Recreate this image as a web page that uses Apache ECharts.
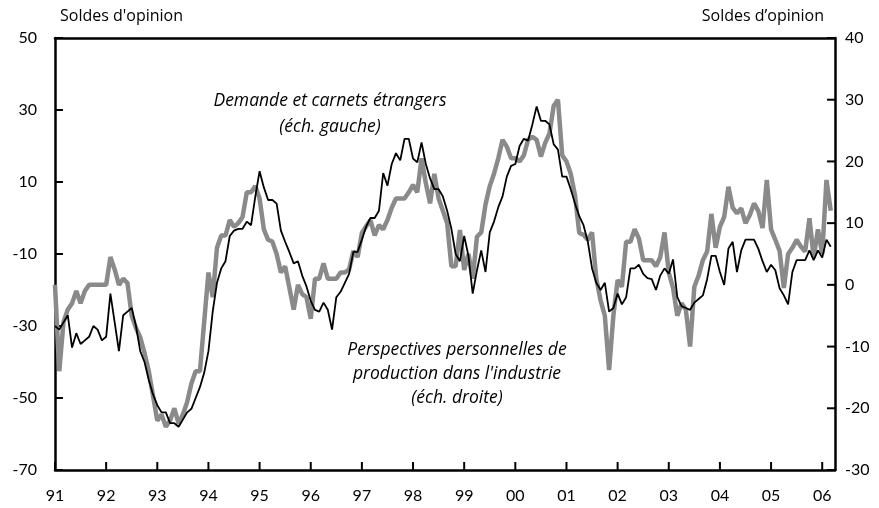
<!DOCTYPE html>
<html>
<head>
<meta charset="utf-8">
<script src="https://cdn.jsdelivr.net/npm/echarts@6/dist/echarts.min.js"></script>
<style>
html,body{margin:0;padding:0;background:#fff;}
#chart{width:879px;height:508px;}
</style>
</head>
<body>
<div id="chart"></div>
<script>
// Years shown on the x axis
var yearLabels = ['91','92','93','94','95','96','97','98','99','00','01','02','03','04','05','06'];
// Tick values of the two value axes
var leftTicks = [-70, -50, -30, -10, 10, 30, 50];
var rightTicks = [-30, -20, -10, 0, 10, 20, 30, 40];

// Monthly categories Jan 1991 .. Apr 2006
var months = [];
for (var y = 1991; y <= 2006; y++) {
  for (var m = 1; m <= 12; m++) {
    if (y === 2006 && m > 4) break;
    months.push(y + '-' + (m < 10 ? '0' + m : m));
  }
}

// Demande et carnets étrangers (left scale)
var demandeEtrangere = [
  -30, -31, -29, -27, -36, -32, -35, -34, -33, -30, -31, -34,
  -33, -21, -29, -37, -27, -26, -25, -30, -37, -40, -45, -49,
  -52, -54, -54, -57, -57, -58, -56, -54, -53, -50, -47, -43,
  -37, -26, -18, -14, -12, -5, -3.5, -3, -3, -1, -2, 6,
  13, 8.5, 5, 5, 4, -3.5, -6.6, -9.5, -12.6, -12, -16, -19,
  -23, -25.5, -26, -23.5, -25.5, -31, -22, -20.5, -18, -15.5, -9.4, -9.4,
  -6, -2.4, 0, 0, 2, 12.5, 9, 15, 18, 16, 22, 22,
  16.5, 15.5, 21, 15, 11, 8, 8, 6, 2, -3, -10, -12,
  -5, -10.5, -21, -14.5, -9, -15, -4, -1, 3, 6, 11.5, 14.5,
  15, 20, 22, 21.5, 26, 31, 27, 27, 26, 20.5, 19, 11.5,
  11.5, 8, 4, 0.5, -2, -6.5, -14, -18, -20, -18, -26, -25,
  -21, -24, -22, -14, -14, -13, -15.5, -16.7, -17, -20, -16, -14,
  -15.5, -11.5, -22, -24.5, -25, -25.5, -23.5, -22.5, -21.5, -17, -10.5, -10.5,
  -15, -18.6, -8.5, -6.6, -15, -9, -6, -6, -6, -8.5, -12, -15,
  -13, -14.5, -19.5, -21.5, -24, -15, -11.7, -11.7, -11.7, -9, -11.7, -9,
  -11, -6, -8
];

// Perspectives personnelles de production dans l'industrie (right scale)
var perspectivesProduction = [
  0, -14, -6, -4, -3, -1, -3, -1, 0, 0, 0, 0,
  0, 4.5, 2.5, 0, 1, 0.3, -5, -7, -8.5, -11, -14, -18,
  -22, -21, -23, -22, -20, -22.5, -21, -19, -16, -14, -14, -6,
  2, -2, 6, 8, 8, 10.5, 9.4, 10, 11, 15, 15, 16,
  14, 9, 7.3, 7, 5, 2, 3, -0.5, -4, 0, -1.5, -2,
  -5.5, 1, 1, 3.5, 1, 1, 1, 2, 2, 2.5, 5.5, 4.5,
  8.4, 9.5, 10.5, 8, 9.7, 9, 10.5, 12.5, 14, 14, 14, 15,
  16.2, 15, 20.5, 16.5, 13.2, 18, 14, 12, 10, 3, 3, 8.9,
  2.4, 5, 1, 7.8, 8.5, 13, 16, 18, 20.5, 23.5, 22.4, 20.5,
  20.5, 20, 21, 23.5, 24, 23.5, 20.8, 23, 24.5, 29, 30, 21,
  20, 18, 14.5, 8.4, 8.1, 7.3, 8.5, 1, -2.5, -5, -13.8, -5,
  0.8, -0.3, 7, 7, 9, 7.5, 4, 4, 4, 3, 4.5, 8.5,
  2, -0.5, -5, -3, -4, -10, -0.3, 1.5, 4, 5.4, 11.5, 6,
  9.4, 11, 15.9, 12.5, 11.6, 12.4, 10, 11.3, 13.2, 12, 9.2, 17,
  9, 7.3, 5.5, -0.5, 5, 6, 7.3, 6.2, 5.4, 10.8, 4.5, 9,
  5, 17, 12
];

var FONT = 'Lato, "Noto Sans", sans-serif';
var TFONT = '"Open Sans", Lato, sans-serif';
var TICK_LEN = 8;

function axisLine() { return { show: true, onZero: false, lineStyle: { color: '#000', width: 2.5 } }; }

// Tick marks drawn through the axes' own coordinate mapping
var xTickData = yearLabels.map(function (l, i) { return [i * 12, leftTicks[0]]; });
var leftTickData = leftTicks.map(function (v) { return [0, v]; });
var rightTickData = rightTicks.map(function (v) { return [months.length - 1, v]; });

function tickRenderer(dx, dy) {
  return function (params, api) {
    var p = api.coord([api.value(0), api.value(1)]);
    return {
      type: 'line',
      shape: { x1: p[0], y1: p[1], x2: p[0] + dx, y2: p[1] + dy },
      style: { stroke: '#000', lineWidth: 2 }
    };
  };
}

var chart = echarts.init(document.getElementById('chart'));
chart.setOption({
  animation: false,
  grid: { left: 55, right: 44, top: 38, bottom: 38, show: false },
  xAxis: [
    {
      type: 'category',
      data: months,
      boundaryGap: false,
      axisLine: axisLine(),
      axisTick: { show: false },
      axisLabel: {
        interval: 11,
        formatter: function (val, idx) { return yearLabels[Math.floor(idx / 12)]; },
        color: '#000', fontSize: 16, margin: 18, fontFamily: FONT
      },
      splitLine: { show: false }
    },
    {
      type: 'category',
      data: months,
      boundaryGap: false,
      position: 'top',
      axisLine: axisLine(),
      axisTick: { show: false },
      axisLabel: { show: false },
      splitLine: { show: false }
    }
  ],
  yAxis: [
    {
      type: 'value', min: -70, max: 50, interval: 20,
      axisLine: axisLine(),
      axisTick: { show: false },
      axisLabel: { color: '#000', fontSize: 16, margin: 18, fontFamily: FONT },
      splitLine: { show: false }
    },
    {
      type: 'value', min: -30, max: 40, interval: 10, position: 'right',
      axisLine: axisLine(),
      axisTick: { show: false },
      axisLabel: { color: '#000', fontSize: 16, margin: 10, fontFamily: FONT },
      splitLine: { show: false }
    }
  ],
  series: [
    {
      name: "Perspectives personnelles de production dans l'industrie",
      type: 'line', xAxisIndex: 0, yAxisIndex: 1, data: perspectivesProduction,
      showSymbol: false, symbol: 'none',
      lineStyle: { color: '#8a8a8a', width: 4.5 }
    },
    {
      name: 'Demande et carnets étrangers',
      type: 'line', xAxisIndex: 0, yAxisIndex: 0, data: demandeEtrangere,
      showSymbol: false, symbol: 'none',
      lineStyle: { color: '#000', width: 1.8 }
    },
    {
      type: 'custom', xAxisIndex: 0, yAxisIndex: 0, silent: true, clip: false,
      data: xTickData, renderItem: tickRenderer(0, -TICK_LEN)
    },
    {
      type: 'custom', xAxisIndex: 0, yAxisIndex: 0, silent: true, clip: false,
      data: leftTickData, renderItem: tickRenderer(TICK_LEN, 0)
    },
    {
      type: 'custom', xAxisIndex: 0, yAxisIndex: 1, silent: true, clip: false,
      data: rightTickData, renderItem: tickRenderer(-TICK_LEN, 0)
    }
  ],
  graphic: [
    { type: 'text', left: 60, top: 8, style: { text: "Soldes d'opinion", fill: '#000', font: '16px ' + TFONT } },
    { type: 'text', right: 55, top: 8, style: { text: 'Soldes d\u2019opinion', fill: '#000', font: '16px ' + TFONT } },
    { type: 'text', x: 330, y: 101, style: { text: 'Demande et carnets étrangers', fill: '#000', font: 'italic 17.5px ' + TFONT, align: 'center', verticalAlign: 'middle' } },
    { type: 'text', x: 330, y: 127, style: { text: '(éch. gauche)', fill: '#000', font: 'italic 17.5px ' + TFONT, align: 'center', verticalAlign: 'middle' } },
    { type: 'text', x: 457, y: 350, style: { text: 'Perspectives personnelles de', fill: '#000', font: 'italic 17.5px ' + TFONT, align: 'center', verticalAlign: 'middle' } },
    { type: 'text', x: 457, y: 374, style: { text: "production dans l'industrie", fill: '#000', font: 'italic 17.5px ' + TFONT, align: 'center', verticalAlign: 'middle' } },
    { type: 'text', x: 457, y: 398, style: { text: '(éch. droite)', fill: '#000', font: 'italic 17.5px ' + TFONT, align: 'center', verticalAlign: 'middle' } }
  ]
});
</script>
</body>
</html>
